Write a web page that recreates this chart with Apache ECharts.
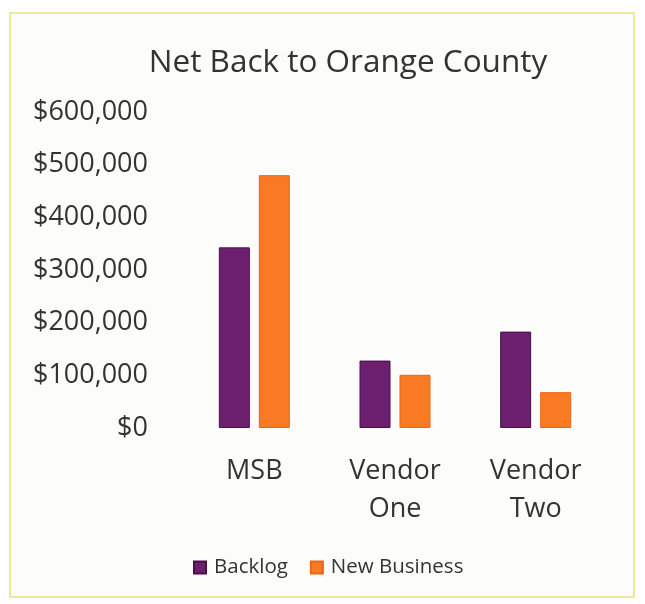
<!DOCTYPE html>
<html>
<head>
<meta charset="utf-8">
<script src="https://cdn.jsdelivr.net/npm/echarts@6/dist/echarts.min.js"></script>
<style>
  html, body { margin: 0; padding: 0; background: #ffffff; }
  #chart { width: 645px; height: 604px; }
</style>
</head>
<body>
<div id="chart"></div>
<script>
// Chart data
const categories = ['MSB', 'Vendor\nOne', 'Vendor\nTwo'];
const backlog = [343000, 128000, 183000];
const newBusiness = [480000, 101000, 68000];
const yTicks = [0, 100000, 200000, 300000, 400000, 500000, 600000];

const FONT = '"Open Sans", sans-serif';
const TEXT = '#333333';

const fmtMoney = v => '$' + v.toLocaleString('en-US');

const chart = echarts.init(document.getElementById('chart'), null, { renderer: 'canvas' });

chart.setOption({
  backgroundColor: '#ffffff',
  animation: false,
  graphic: [
    {
      type: 'rect',
      z: -10,
      shape: { x: 10, y: 13, width: 624, height: 584 },
      style: { fill: '#fcfcfb', stroke: '#f1e79a', lineWidth: 2 }
    }
  ],
  title: {
    text: 'Net Back to Orange County',
    left: 343,
    top: 42,
    textAlign: 'center',
    textStyle: { fontFamily: FONT, fontSize: 31.5, fontWeight: 'normal', color: TEXT }
  },
  legend: {
    left: 188,
    top: 552,
    itemWidth: 12,
    itemHeight: 12,
    itemGap: 22,
    icon: 'rect',
    textStyle: { fontFamily: FONT, fontSize: 20.5, color: TEXT, padding: [0, 0, 0, 3] },
    data: ['Backlog', 'New Business']
  },
  grid: { left: 184, right: 39, top: 112, bottom: 176, containLabel: false },
  xAxis: {
    type: 'category',
    data: categories,
    axisLine: { show: false },
    axisTick: { show: false },
    axisLabel: {
      fontFamily: FONT, fontSize: 27, color: TEXT, margin: 24, lineHeight: 38, interval: 0
    }
  },
  yAxis: {
    type: 'value',
    min: yTicks[0],
    max: yTicks[yTicks.length - 1],
    interval: yTicks[1] - yTicks[0],
    splitLine: { show: false },
    axisLine: { show: false },
    axisTick: { show: false },
    axisLabel: {
      fontFamily: FONT, fontSize: 27, color: TEXT, margin: 36,
      formatter: fmtMoney
    }
  },
  series: [
    {
      name: 'Backlog',
      type: 'bar',
      data: backlog,
      barWidth: 31,
      barGap: '29%',
      itemStyle: { color: '#6b1f6e', borderColor: '#4a1048', borderWidth: 1 }
    },
    {
      name: 'New Business',
      type: 'bar',
      data: newBusiness,
      barWidth: 31,
      itemStyle: { color: '#f97a22', borderColor: '#e8661a', borderWidth: 1 }
    }
  ]
});
</script>
</body>
</html>
